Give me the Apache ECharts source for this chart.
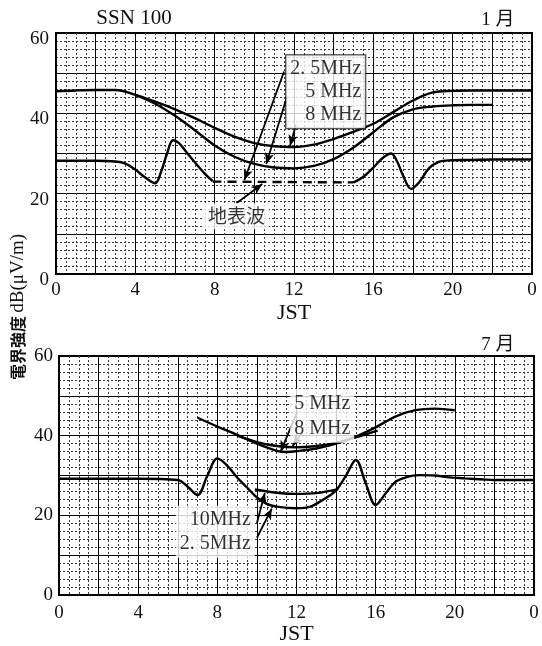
<!DOCTYPE html>
<html>
<head>
<meta charset="utf-8">
<script src="https://cdn.jsdelivr.net/npm/echarts@6/dist/echarts.min.js"></script>
<style>
html,body{margin:0;padding:0;background:#fff;}
#c{width:542px;height:646px;}
</style>
</head>
<body>
<div id="c"></div>
<script>
// ---------- tick labels ----------
const xTickLabels = ['0', '4', '8', '12', '16', '20', '0'];
const yTickLabels = ['0', '20', '40', '60'];

// ---------- 1月 (top panel) ----------
const jan8Hours  = [0, 1, 2, 3, 4, 5, 6, 7, 8, 9, 10, 11, 12, 13, 14, 15, 16, 17, 18, 19, 20, 21, 22, 23, 24];
const jan8Values = [45.5, 45.7, 45.8, 45.8, 44.6, 42.9, 41.0, 38.8, 36.4, 34.2, 32.6, 31.8, 31.6, 32.2, 33.6, 35.4, 37.4, 40.3, 43.2, 45.2, 45.6, 45.7, 45.7, 45.7, 45.7];

const jan5Hours  = [4, 5, 6, 7, 8, 9, 10, 11, 12, 13, 14, 15, 16, 17, 18, 19, 20, 21, 22];
const jan5Values = [44.6, 42.4, 39.4, 35.8, 32.0, 29.2, 27.4, 26.5, 26.3, 26.9, 28.6, 31.5, 35.3, 39.0, 41.0, 41.7, 42.0, 42.1, 42.1];

const jan25NightHours  = [0, 1, 2, 3, 3.5, 4, 4.5, 5, 5.3, 5.6, 5.9, 6.2, 6.6, 7, 7.5, 7.9];
const jan25NightValues = [28.2, 28.2, 28.2, 28.0, 27.5, 26.0, 24.0, 22.6, 25.5, 30.0, 33.3, 32.6, 30.2, 27.8, 25.0, 23.1];

const jan25EveHours  = [15, 15.5, 16, 16.5, 16.9, 17.2, 17.5, 17.9, 18.3, 18.8, 19.3, 19.8, 21, 22, 23, 24];
const jan25EveValues = [22.8, 24.2, 26.5, 29.0, 30.0, 28.0, 24.5, 21.2, 22.8, 26.3, 27.9, 28.3, 28.4, 28.5, 28.5, 28.5];

const janGroundHours  = [7.9, 15.0];
const janGroundValues = [23.0, 22.8];

// ---------- 7月 (bottom panel) ----------
const jul5Hours  = [7, 8, 9, 10, 11, 11.5, 12, 13, 14, 15, 16, 17, 18, 19, 20];
const jul5Values = [44.5, 42.3, 40.2, 38.0, 36.2, 35.9, 36.1, 36.8, 38.0, 39.8, 42.1, 44.8, 46.4, 46.8, 46.4];

const jul8Hours  = [9, 10, 11, 12, 13, 14, 15, 16.1];
const jul8Values = [40.0, 38.4, 37.4, 37.1, 37.4, 38.2, 39.6, 41.3];

const jul10Hours  = [9.9, 11, 12, 13, 14.1];
const jul10Values = [26.5, 25.7, 25.4, 25.6, 26.6];

const jul25Hours  = [0, 2, 4, 6, 6.5, 7, 7.5, 8, 8.5, 9, 9.5, 10, 10.5, 11, 12, 12.7, 13.3, 14, 14.5, 15, 15.5, 16, 16.5, 17, 17.5, 18.2, 19, 19.6, 20.5, 21.5, 22, 24];
const jul25Values = [29.2, 29.2, 29.2, 28.9, 27.2, 25.1, 30.0, 34.3, 32.5, 29.5, 27.0, 24.5, 22.9, 22.2, 21.8, 22.2, 23.8, 26.3, 30.0, 33.9, 28.0, 22.6, 25.5, 28.4, 29.5, 30.1, 30.0, 29.6, 29.3, 29.0, 28.9, 28.9];

// ---------- helpers ----------
const zip = (h, v) => h.map((x, i) => [x, v[i]]);
const SERIF = "'Liberation Serif','DejaVu Serif',serif";
const CJK = "'Noto Sans CJK JP','Noto Sans CJK SC',sans-serif";
const hourCats = Array.from({ length: 25 }, (_, h) => String(h));

// value x axis used by the data (grid paper: solid every 2 h, dotted every 0.5 h)
function makeXValue(gi) {
  return {
    type: 'value', gridIndex: gi, position: 'bottom', min: 0, max: 24, interval: 2,
    axisLine: { show: false }, axisTick: { show: false }, axisLabel: { show: false },
    splitLine: { show: true, lineStyle: { color: '#000', width: 1 } },
    minorTick: { show: false, splitNumber: 4 },
    minorSplitLine: { show: true, lineStyle: { color: '#3a3a3a', width: 1, type: [2, 2] } }
  };
}
// hour axis that carries the tick labels and the JST name
function makeXHours(gi, labelMargin, nameGap) {
  return {
    type: 'category', gridIndex: gi, position: 'bottom', offset: 0,
    data: hourCats, boundaryGap: false,
    axisLine: { show: true, onZero: false, lineStyle: { color: '#000', width: 2 } },
    axisTick: { show: false },
    axisLabel: {
      interval: 0, margin: labelMargin, fontSize: 19, fontFamily: SERIF, color: '#111',
      formatter: (val, idx) => (idx % 4 === 0 ? xTickLabels[idx / 4] : '')
    },
    splitLine: { show: false },
    name: 'JST', nameLocation: 'middle', nameGap: nameGap,
    nameTextStyle: { fontSize: 22, fontFamily: SERIF, color: '#111' }
  };
}
function makeY(gi, shifted) {
  const lab = {
    margin: shifted ? 7 : 6, fontSize: 19, fontFamily: SERIF, color: '#111',
    formatter: v => (v % 20 === 0 ? yTickLabels[v / 20] : '')
  };
  if (shifted) { lab.verticalAlign = 'top'; lab.lineHeight = 12; }
  return {
    type: 'value', gridIndex: gi, position: 'left', min: 0, max: 60, interval: 10,
    axisLine: { show: true, onZero: false, lineStyle: { color: '#000', width: 2 } },
    axisTick: { show: false },
    axisLabel: lab,
    splitLine: { show: true, lineStyle: { color: '#000', width: 1 } },
    minorTick: { show: false, splitNumber: 5 },
    minorSplitLine: { show: true, lineStyle: { color: '#3a3a3a', width: 1, type: [2, 2] } }
  };
}
function curve(gi, data, dashed) {
  return {
    type: 'line', xAxisIndex: gi, yAxisIndex: gi, data: data,
    symbol: 'none', showSymbol: false, smooth: 0.35, z: 5, silent: true,
    lineStyle: { color: '#000', width: 2.4, type: dashed ? [9, 6] : 'solid' }
  };
}
function arrows(gi, pairs) {
  return {
    type: 'line', xAxisIndex: gi, yAxisIndex: gi, data: [], z: 8, silent: true,
    markLine: {
      silent: true, animation: false,
      symbol: ['none', 'arrow'], symbolSize: [7, 11],
      lineStyle: { color: '#000', width: 1.8, type: 'solid' },
      label: { show: false },
      data: pairs.map(p => [{ coord: p[0] }, { coord: p[1] }])
    }
  };
}
function note(gi, pos, text, rich, box) {
  return {
    type: 'scatter', xAxisIndex: gi, yAxisIndex: gi, data: [pos],
    symbolSize: 1, itemStyle: { color: 'rgba(0,0,0,0)' }, z: 10, silent: true,
    label: Object.assign({
      show: true, position: 'inside', formatter: text, rich: rich,
      backgroundColor: '#fff', padding: [2, 4, 2, 4]
    }, box || {})
  };
}
const richR = (lh) => ({ r: { align: 'right', fontSize: 20, fontFamily: SERIF, color: '#000', lineHeight: lh } });

const option = {
  animation: false,
  backgroundColor: '#fff',
  grid: [
    { left: 56, top: 33, width: 476, height: 241, show: true, borderColor: '#000', borderWidth: 2, backgroundColor: '#fff' },
    { left: 59, top: 356, width: 475, height: 242, show: true, borderColor: '#000', borderWidth: 2, backgroundColor: '#fff' }
  ],
  xAxis: [makeXValue(0), makeXValue(1), makeXHours(0, 7, 28), makeXHours(1, 8, 22)],
  yAxis: [makeY(0, true), makeY(1, false)],
  graphic: [
    { type: 'text', x: 134, y: 18, silent: true,
      style: { text: 'SSN 100', font: "21px 'Liberation Serif'", fill: '#111', align: 'center', verticalAlign: 'middle', textAlign: 'center', textVerticalAlign: 'middle' } },
    { type: 'text', x: 498, y: 20, silent: true,
      style: { text: '1 月', font: "19px 'Liberation Serif','Noto Sans CJK JP'", fill: '#111', align: 'center', verticalAlign: 'middle', textAlign: 'center', textVerticalAlign: 'middle' } },
    { type: 'text', x: 498, y: 345, silent: true,
      style: { text: '7 月', font: "19px 'Liberation Serif','Noto Sans CJK JP'", fill: '#111', align: 'center', verticalAlign: 'middle', textAlign: 'center', textVerticalAlign: 'middle' } },
    { type: 'text', x: 18, y: 307, rotation: Math.PI / 2, silent: true,
      style: {
        text: '{c|電界強度} {l|dB(μV/m)}',
        align: 'center', verticalAlign: 'middle', textAlign: 'center', textVerticalAlign: 'middle',
        rich: {
          c: { fontFamily: CJK, fontSize: 16, fontWeight: 'bold', fill: '#111', color: '#111' },
          l: { fontFamily: SERIF, fontSize: 19, fill: '#111', color: '#111' }
        }
      } }
  ],
  series: [
    // top panel curves
    curve(0, zip(jan8Hours, jan8Values)),
    curve(0, zip(jan5Hours, jan5Values)),
    curve(0, zip(jan25NightHours, jan25NightValues)),
    curve(0, zip(jan25EveHours, jan25EveValues)),
    curve(0, zip(janGroundHours, janGroundValues), true),
    arrows(0, [
      [[11.5, 50.4], [9.5, 23.4]],
      [[11.65, 44.2], [10.6, 27.4]],
      [[12.1, 37.1], [11.8, 31.9]],
      [[9.1, 17.6], [10.4, 22.4]]
    ]),
    note(0, [13.6, 45.4], '{r|2. 5MHz}\n{r|5 MHz}\n{r|8 MHz}', richR(23),
      { borderColor: '#000', borderWidth: 1 }),
    note(0, [9.1, 14.4], '{c|地表波}',
      { c: { fontFamily: CJK, fontSize: 19, color: '#000', lineHeight: 22 } }),
    // bottom panel curves
    curve(1, zip(jul5Hours, jul5Values)),
    curve(1, zip(jul8Hours, jul8Values)),
    curve(1, zip(jul10Hours, jul10Values)),
    curve(1, zip(jul25Hours, jul25Values)),
    arrows(1, [
      [[12.05, 46.1], [11.2, 36.0]],
      [[12.3, 40.8], [11.8, 37.4]],
      [[10.0, 18.1], [10.4, 25.6]],
      [[10.0, 14.4], [10.75, 21.7]]
    ]),
    note(1, [13.3, 45.0], '{r|5 MHz}\n{r|8 MHz}', richR(25)),
    note(1, [7.9, 15.9], '{r|10MHz}\n{r|2. 5MHz}', richR(24))
  ]
};

const chart = echarts.init(document.getElementById('c'), null, { renderer: 'canvas' });
chart.setOption(option);
</script>
</body>
</html>
